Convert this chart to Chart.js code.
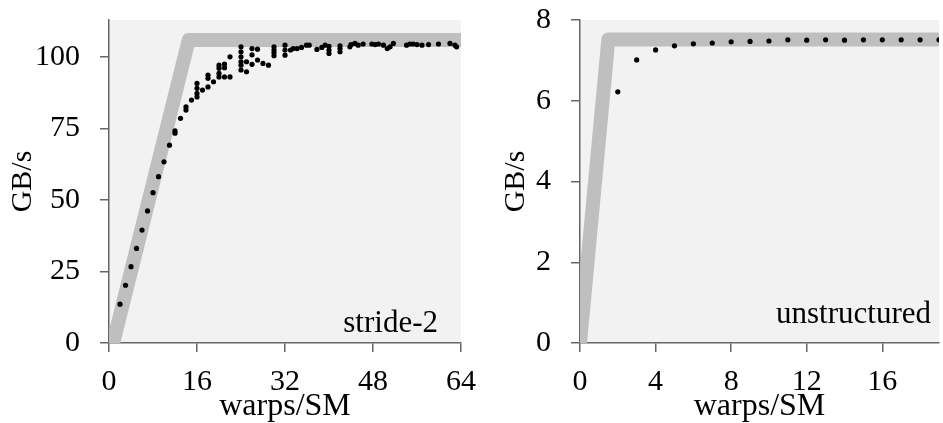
<!DOCTYPE html>
<html>
<head>
<meta charset="utf-8">
<script src="https://cdn.jsdelivr.net/npm/chart.js@4.4.1/dist/chart.umd.min.js"></script>
<style>
  body { margin: 0; background: #fff; }
  .panel { position: absolute; top: 0; }
</style>
</head>
<body>
<div class="panel" style="left:0px"><canvas id="strideChart" width="480" height="423"></canvas></div>
<div class="panel" style="left:493px"><canvas id="unstructChart" width="450" height="423"></canvas></div>
<script>
// stride-2 measurements (warps/SM, GB/s)
const stride2Warps = [2, 3, 4, 5, 6, 7, 8, 9, 10, 11, 12, 12, 13, 14, 14, 15,
  16, 16, 16, 16, 17, 18, 18, 18, 19, 20, 20, 20, 20, 21, 21, 21, 22, 22,
  24, 24, 24, 24, 24, 24, 25, 25, 26, 26, 26, 27, 27, 28, 29, 30, 30, 30, 30,
  32, 32, 32, 33, 33.5, 34.2, 35, 35.9, 36.4, 37.8, 38.7, 39.3, 40, 40, 40,
  42, 42, 42, 43.8, 44, 44.7, 45.3, 46.2, 47.8, 48.4, 49, 49.9, 50.6, 51.1, 51.7,
  54.1, 54.7, 55.3, 56, 56.9, 58.1, 59.9, 62, 62.9, 63.2];
const stride2GBs = [13.6, 20.2, 26.7, 33.1, 39.5, 46.2, 52.6, 58.2, 63.4, 69.2, 73.4, 74.2, 78.6, 81.5, 82.6, 85.0,
  86.1, 87.3, 89.1, 90.8, 88.5, 89.6, 92.6, 93.7, 91.4, 93.1, 94.3, 96.1, 97.2, 93.1, 96.3, 97.6, 93.1, 100.1,
  95.5, 97.2, 98.4, 100.1, 101.9, 103.6, 94.9, 98.4, 103.0, 100.8, 97.5, 102.8, 99.0, 97.8, 97.2, 100.5, 101.5, 102.5, 103.6,
  100.7, 102.5, 104.2, 102.5, 103.0, 103.0, 103.4, 104.2, 104.2, 102.7, 103.4, 104.2, 102.5, 101.3, 103.8,
  103.0, 101.9, 104.0, 103.6, 104.4, 104.8, 104.2, 104.6, 104.6, 104.4, 104.6, 104.2, 103.0, 103.6, 104.8,
  104.2, 104.6, 104.6, 104.4, 104.2, 104.4, 104.6, 104.8, 104.2, 103.6];
const stride2RoofWarps = [-0.55, 14.5, 66];
const stride2RoofGBs = [-10, 106, 106];

// unstructured measurements
const unstructWarps = [2, 3, 4, 5, 6, 7, 8, 9, 10, 11, 12, 13, 14, 15, 16, 17, 18, 19];
const unstructGBs = [6.22, 7.01, 7.26, 7.36, 7.41, 7.43, 7.46, 7.47, 7.48, 7.51, 7.50, 7.51, 7.50, 7.51, 7.51, 7.51, 7.51, 7.51];
const unstructRoofWarps = [-0.2, 1.5, 20];
const unstructRoofGBs = [-1, 7.52, 7.52];

Chart.defaults.font.family = "'Liberation Serif', 'Times New Roman', serif";
Chart.defaults.color = '#000';

const toPoints = (xs, ys) => xs.map((x, i) => ({x: x, y: ys[i]}));

const panelPlugin = {
  id: 'panelBits',
  beforeDraw(chart, args, opts) {
    const a = chart.chartArea;
    const ctx = chart.ctx;
    ctx.save();
    ctx.fillStyle = '#f2f2f2';
    ctx.fillRect(a.left, a.top, a.right - a.left, a.bottom - a.top);
    ctx.restore();
  },
  afterDatasetsDraw(chart, args, opts) {
    const a = chart.chartArea;
    const ctx = chart.ctx;
    ctx.save();
    ctx.font = "31px 'Liberation Serif', serif";
    ctx.fillStyle = '#000';
    ctx.textAlign = 'right';
    ctx.textBaseline = 'alphabetic';
    ctx.fillText(opts.text, a.right - opts.dx, a.bottom - opts.dy);
    ctx.restore();
  }
};

const axisColor = '#666';

// fixed scale sizes, and no extra label padding pushed into the layout
const noPad = (s) => { s.paddingTop = 0; s.paddingBottom = 0; s.paddingLeft = 0; s.paddingRight = 0; };

function makeChart(id, dots, roof, xMax, xStep, yMax, yStep, yWidth, padRight, label, dx, dy) {
  const config = {
    type: 'scatter',
    data: {
      datasets: [{
        data: dots,
        pointRadius: 2.6,
        pointBackgroundColor: '#000',
        pointBorderWidth: 0,
        order: 0
      },
      {
        data: roof,
        showLine: true,
        pointRadius: 0,
        borderColor: '#bfbfbf',
        borderWidth: 14,
        borderJoinStyle: 'round',
        borderCapStyle: 'butt',
        clip: 0,
        order: 1
      }]
    },
    options: {
      responsive: false,
      animation: false,
      layout: { padding: { left: 0, right: padRight, top: 20, bottom: 0 } },
      plugins: {
        legend: { display: false },
        tooltip: { enabled: false },
        panelBits: { text: label, dx: dx, dy: dy }
      },
      scales: {
        x: {
          type: 'linear',
          min: 0,
          max: xMax,
          afterFit: (s) => { s.height = 80; noPad(s); },
          ticks: { stepSize: xStep, includeBounds: false, padding: 12, font: { size: 30 } },
          grid: { drawOnChartArea: false, tickLength: 9, color: axisColor, lineWidth: 1.5 },
          border: { color: axisColor, width: 1.5 },
          title: { display: true, text: 'warps/SM', font: { size: 32, lineHeight: 1 }, padding: { top: 0, bottom: 0 } }
        },
        y: {
          min: 0,
          max: yMax,
          afterFit: (s) => { s.width = yWidth; noPad(s); },
          ticks: { stepSize: yStep, includeBounds: false, padding: 20, font: { size: 30 } },
          grid: { drawOnChartArea: false, tickLength: 9, color: axisColor, lineWidth: 1.5 },
          border: { color: axisColor, width: 1.5 },
          title: { display: true, text: 'GB/s', font: { size: 30, lineHeight: 1 }, padding: { top: 8, bottom: 0 } }
        }
      }
    },
    plugins: [panelPlugin]
  };
  return new Chart(document.getElementById(id), config);
}

makeChart('strideChart', toPoints(stride2Warps, stride2GBs), toPoints(stride2RoofWarps, stride2RoofGBs),
  64, 16, 113, 25, 109, 19, 'stride-2', 23, 11);
makeChart('unstructChart', toPoints(unstructWarps, unstructGBs), toPoints(unstructRoofWarps, unstructRoofGBs),
  19, 4, 8, 2, 87, 1, 'unstructured', 8, 20);
</script>
</body>
</html>
